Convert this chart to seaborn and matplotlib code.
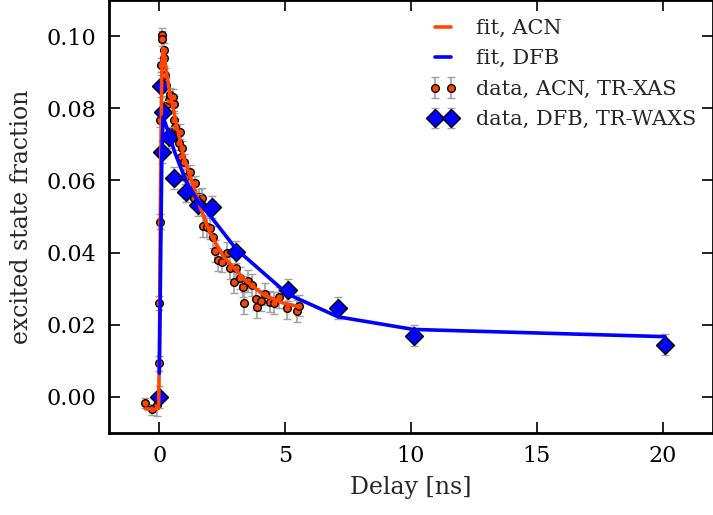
import numpy as np
import pandas as pd
import matplotlib
matplotlib.use("Agg")
import matplotlib.pyplot as plt
import seaborn as sns

# ---------------- data ----------------
acn_t = [-0.56, -0.29, -0.09, -0.01, 0.0, 0.02, 0.04, 0.06, 0.10, 0.12, 0.17, 0.20,
         0.24, 0.28, 0.30, 0.37, 0.44, 0.53, 0.57, 0.60, 0.63, 0.70, 0.77, 0.83,
         0.87, 0.90, 0.97, 1.03, 1.16, 1.23, 1.36, 1.43, 1.56, 1.63, 1.69, 1.72,
         1.89, 2.02, 2.15, 2.22, 2.35, 2.49, 2.69, 2.82, 2.95, 3.06, 3.21, 3.32,
         3.35, 3.54, 3.68, 3.85, 3.90, 4.04, 4.21, 4.40, 4.56, 4.74, 5.07, 5.46, 5.56]
acn_y = [-0.0017, -0.0034, -0.0022, 0.0093, 0.0260, 0.0486, 0.0767, 0.0920, 0.1003, 0.0993,
         0.0961, 0.0938, 0.0892, 0.0864, 0.0813, 0.0823, 0.0837, 0.0832, 0.0813, 0.0767,
         0.0749, 0.0726, 0.0703, 0.0735, 0.0666, 0.0689, 0.0652, 0.0610, 0.0573, 0.0624,
         0.0550, 0.0592, 0.0555, 0.0546, 0.0550, 0.0474, 0.0472, 0.0467, 0.0444, 0.0405,
         0.0380, 0.0375, 0.0398, 0.0357, 0.0319, 0.0357, 0.0329, 0.0306, 0.0260, 0.0322,
         0.0310, 0.0271, 0.0250, 0.0267, 0.0285, 0.0264, 0.0260, 0.0276, 0.0246, 0.0238,
         0.0253]
acn_err = [0.0015, 0.0015, 0.003, 0.002, 0.002, 0.002, 0.002, 0.002, 0.002, 0.002,
           0.002, 0.002, 0.002, 0.002, 0.002, 0.002, 0.002, 0.002, 0.002, 0.002,
           0.002, 0.002, 0.002, 0.002, 0.002, 0.002, 0.002, 0.002, 0.002, 0.002,
           0.002, 0.002, 0.002, 0.002, 0.003, 0.003, 0.003, 0.003, 0.003, 0.003,
           0.003, 0.003, 0.003, 0.003, 0.003, 0.003, 0.003, 0.003, 0.003, 0.003,
           0.003, 0.003, 0.003, 0.003, 0.003, 0.003, 0.003, 0.003, 0.003, 0.003,
           0.003]

acn_fit_t = [-0.55, -0.20, -0.03, 0.0, 0.05, 0.10, 0.15, 0.37, 0.70, 0.96, 1.36, 1.63,
             2.02, 2.55, 3.40, 4.14, 4.93, 5.55]
acn_fit_y = [-0.0033, -0.0035, -0.0030, 0.0100, 0.0600, 0.0920, 0.0966, 0.0860, 0.0749,
             0.0666, 0.0583, 0.0525, 0.0453, 0.0389, 0.0324, 0.0283, 0.0260, 0.0250]

dfb_t = [0.0, 0.05, 0.10, 0.15, 0.40, 0.60, 1.05, 1.55, 2.10, 3.05, 5.10, 7.10, 10.10, 20.10]
dfb_y = [0.0000, 0.0861, 0.0678, 0.0790, 0.0719, 0.0606, 0.0569, 0.0532, 0.0527, 0.0401,
         0.0296, 0.0247, 0.0170, 0.0145]
dfb_err = [0.003, 0.003, 0.003, 0.003, 0.003, 0.003, 0.003, 0.003, 0.003, 0.003,
           0.003, 0.003, 0.003, 0.003]

dfb_fit_t = [0.0, 0.10, 0.15, 0.40, 0.60, 1.05, 1.55, 2.10, 3.05, 5.10, 7.10, 10.10, 20.10]
dfb_fit_y = [0.0066, 0.0670, 0.0776, 0.0725, 0.0680, 0.0600, 0.0540, 0.0495, 0.0410,
             0.0285, 0.0222, 0.0187, 0.0167]

# ---------------- style ----------------
sns.set_style("ticks")
plt.rcParams["font.family"] = ["DejaVu Serif"]
plt.rcParams["mathtext.fontset"] = "dejavuserif"

ORANGE = "#ff4500"
BLUE = "#0000ff"
ECOL = "#a0a0a0"

fig = plt.figure(figsize=(7.13, 5.15), dpi=100)
ax = fig.add_axes([109 / 713, 82 / 515, (713 - 109) / 713, 433 / 515])

# data with error bars (drawn below the fit lines)
ax.errorbar(acn_t, acn_y, yerr=acn_err, fmt="o", ms=5.5, mfc=ORANGE, mec="black", mew=1,
            ecolor=ECOL, elinewidth=1.2, capsize=3, capthick=1.2,
            label="data, ACN, TR-XAS", zorder=2)
ax.errorbar(dfb_t, dfb_y, yerr=dfb_err, fmt="D", ms=9, mfc=BLUE, mec="black", mew=1,
            ecolor=ECOL, elinewidth=1.2, capsize=3, capthick=1.2,
            label="data, DFB, TR-WAXS", zorder=3)

# fit curves on top
sns.lineplot(x=acn_fit_t, y=acn_fit_y, color=ORANGE, linewidth=2.6, label="fit, ACN", ax=ax,
             sort=False, zorder=4)
sns.lineplot(x=dfb_fit_t, y=dfb_fit_y, color=BLUE, linewidth=2.6, label="fit, DFB", ax=ax,
             sort=False, zorder=5)

ax.set_xlim(-2, 22)
ax.set_ylim(-0.01, 0.11)
ax.set_xticks([0, 5, 10, 15, 20])
ax.set_yticks([0.0, 0.02, 0.04, 0.06, 0.08, 0.10])
ax.set_yticklabels(["0.00", "0.02", "0.04", "0.06", "0.08", "0.10"])
ax.tick_params(direction="in", length=8, width=1.2, top=True, right=True,
               labelsize=16, pad=9, colors="black")
for s in ax.spines.values():
    s.set_visible(True)
    s.set_linewidth(2)
    s.set_color("black")

ax.set_xlabel("Delay [ns]", fontsize=17, labelpad=6)
ax.set_ylabel("excited state fraction", fontsize=17, labelpad=10)

handles, labels = ax.get_legend_handles_labels()
order = ["fit, ACN", "fit, DFB", "data, ACN, TR-XAS", "data, DFB, TR-WAXS"]
hmap = dict(zip(labels, handles))
leg = ax.legend([hmap[k] for k in order], order, loc="upper right", frameon=False,
                fontsize=15, numpoints=2, handlelength=1.4, handletextpad=0.9,
                labelspacing=0.55, borderaxespad=0.3, bbox_to_anchor=(0.997, 0.99))
for line in leg.get_lines()[:2]:
    line.set_linewidth(2.6)

fig.savefig("out.png", dpi=100)
